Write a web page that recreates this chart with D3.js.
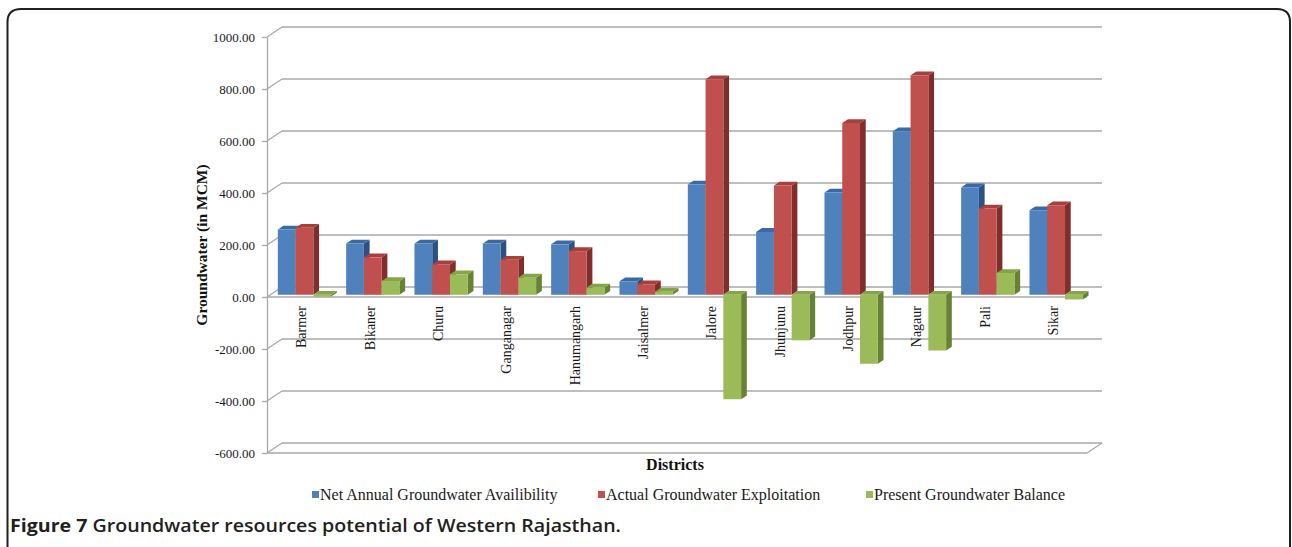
<!DOCTYPE html>
<html>
<head>
<meta charset="utf-8">
<script src="https://cdn.jsdelivr.net/npm/d3@7"></script>
<style>
  html, body { margin: 0; padding: 0; background: #fff; }
  svg { display: block; }
</style>
</head>
<body>
<svg id="chart" width="1292" height="547"></svg>
<script>
// District names along the category axis
const districts = ["Barmer", "Bikaner", "Churu", "Ganganagar", "Hanumangarh", "Jaisalmer",
                   "Jalore", "Jhunjunu", "Jodhpur", "Nagaur", "Pali", "Sikar"];

// Groundwater figures in MCM
const netAvailability = [251, 197, 197, 197, 194, 52, 424, 242, 393, 629, 413, 325];
const actualExploitation = [258, 144, 117, 135, 168, 40, 829, 420, 661, 844, 332, 344];
const presentBalance = [-7, 53, 79, 66, 28, 12, -402, -175, -265, -214, 84, -18];

const seriesNames = ["Net Annual Groundwater Availibility", "Actual Groundwater Exploitation", "Present Groundwater Balance"];
const seriesValues = [netAvailability, actualExploitation, presentBalance];

// Value axis ticks
const yTicks = [1000, 800, 600, 400, 200, 0, -200, -400, -600];
const yTickLabels = ["1000.00", "800.00", "600.00", "400.00", "200.00", "0.00", "-200.00", "-400.00", "-600.00"];

// Face colours: front, top, side
const faceColors = [
  { front: "#4F81BD", top: "#3A6AA4", side: "#2C5283" },
  { front: "#C0504D", top: "#A5403D", side: "#7F2E2C" },
  { front: "#9BBB59", top: "#84A548", side: "#678234" }
];

const svg = d3.select("#chart");

// Frame with rounded top corners
svg.append("path")
  .attr("d", "M7.5,548 V22 Q7.5,9 21,9 H1277 Q1290,9 1290,22 V548")
  .attr("fill", "none")
  .attr("stroke", "#231f20")
  .attr("stroke-width", 2);

// Plot geometry (front plane) and depth offset of the 3D box
const left = 267, right = 1087;
const depth = { dx: 15, dy: -10 };
const barD0 = 0.22, barD1 = 0.6;

const y = d3.scaleLinear().domain([-600, 1000]).range([453, 37]);
const x = d3.scaleBand().domain(districts).range([left, right])
  .paddingInner(0.22).paddingOuter(0.11);
const xs = d3.scaleBand().domain(d3.range(seriesNames.length)).range([0, x.bandwidth()]);

const P = (px, py, d) => [px + depth.dx * d, py + depth.dy * d];
const poly = pts => "M" + pts.map(p => p[0].toFixed(2) + "," + p[1].toFixed(2)).join("L") + "Z";

const gridColor = "#a9a9a9";
const grid = svg.append("g").attr("stroke", gridColor).attr("stroke-width", 1.3).attr("fill", "none");

// Back-wall gridlines and left-wall diagonals
yTicks.forEach(t => {
  const [bx, by] = P(left, y(t), 1);
  grid.append("line").attr("x1", bx).attr("y1", by).attr("x2", right + depth.dx).attr("y2", by);
  grid.append("line").attr("x1", left).attr("y1", y(t)).attr("x2", bx).attr("y2", by);
});

// Floor front edge and right edge
{
  const yf = y(-600);
  const [bx, by] = P(right, yf, 1);
  grid.append("line").attr("x1", left).attr("y1", yf).attr("x2", right).attr("y2", yf);
  grid.append("line").attr("x1", right).attr("y1", yf).attr("x2", bx).attr("y2", by);
}

// Category axis line at zero
grid.append("line").attr("x1", left).attr("y1", y(0)).attr("x2", right).attr("y2", y(0));

// Value axis
const yAxis = d3.axisLeft(y)
  .tickValues(yTicks)
  .tickFormat((d, i) => yTickLabels[i])
  .tickSize(5)
  .tickSizeOuter(0)
  .tickPadding(7);

const yAxisG = svg.append("g").attr("transform", `translate(${left},0)`).call(yAxis);
yAxisG.select(".domain").attr("stroke", gridColor).attr("stroke-width", 1.3);
yAxisG.selectAll(".tick line").attr("stroke", gridColor).attr("stroke-width", 1.3);
yAxisG.selectAll(".tick text")
  .attr("font-family", "'Liberation Serif', 'Times New Roman', serif")
  .attr("font-size", 13)
  .attr("fill", "#1a1a1a");

// 3D columns, drawn left to right so nearer side faces are overlapped correctly
const bars = svg.append("g");
districts.forEach((dName, ci) => {
  seriesValues.forEach((vals, si) => {
    const v = vals[ci];
    const c = faceColors[si];
    const x0 = x(dName) + xs(si);
    const x1 = x0 + xs.bandwidth();
    const yv = y(v), y0 = y(0);
    const yTop = Math.min(yv, y0), yBot = Math.max(yv, y0);

    // side face
    bars.append("path")
      .attr("d", poly([P(x1, yTop, barD0), P(x1, yTop, barD1), P(x1, yBot, barD1), P(x1, yBot, barD0)]))
      .attr("fill", c.side);
    // top face
    bars.append("path")
      .attr("d", poly([P(x0, yTop, barD0), P(x1, yTop, barD0), P(x1, yTop, barD1), P(x0, yTop, barD1)]))
      .attr("fill", c.top);
    // front face
    bars.append("path")
      .attr("d", poly([P(x0, yTop, barD0), P(x1, yTop, barD0), P(x1, yBot, barD0), P(x0, yBot, barD0)]))
      .attr("fill", c.front);
  });
});

// Category labels
const serif = "'Liberation Serif', 'Times New Roman', serif";
svg.append("g").selectAll("text")
  .data(districts)
  .join("text")
  .attr("transform", d => `translate(${x(d) + x.bandwidth() / 2 + 5},306) rotate(-90)`)
  .attr("text-anchor", "end")
  .attr("font-family", serif)
  .attr("font-size", 14)
  .attr("fill", "#1a1a1a")
  .text(d => d);

// Axis titles
svg.append("text")
  .attr("transform", "translate(201,245) rotate(-90)")
  .attr("text-anchor", "middle")
  .attr("dominant-baseline", "central")
  .attr("font-family", serif)
  .attr("font-weight", "bold")
  .attr("font-size", 15.5)
  .attr("fill", "#111")
  .text("Groundwater (in MCM)");

svg.append("text")
  .attr("x", 675).attr("y", 470)
  .attr("text-anchor", "middle")
  .attr("font-family", serif)
  .attr("font-weight", "bold")
  .attr("font-size", 16)
  .attr("fill", "#111")
  .text("Districts");

// Legend
const legendX = [312, 598, 866];
const legend = svg.append("g");
seriesNames.forEach((name, i) => {
  legend.append("rect")
    .attr("x", legendX[i]).attr("y", 491)
    .attr("width", 7).attr("height", 7)
    .attr("fill", faceColors[i].front);
  legend.append("text")
    .attr("x", legendX[i] + 8).attr("y", 500)
    .attr("font-family", serif)
    .attr("font-size", 16)
    .attr("fill", "#1a1a1a")
    .text(name);
});

// Figure caption
const cap = svg.append("text")
  .attr("x", 10).attr("y", 532)
  .attr("font-family", "'Open Sans', 'Noto Sans', sans-serif")
  .attr("font-size", 17.5)
  .attr("fill", "#231f20")
  .attr("textLength", 611)
  .attr("lengthAdjust", "spacingAndGlyphs");
cap.append("tspan").attr("font-weight", 700).text("Figure 7 ");
cap.append("tspan").attr("font-weight", 600).text("Groundwater resources potential of Western Rajasthan.");
</script>
</body>
</html>
